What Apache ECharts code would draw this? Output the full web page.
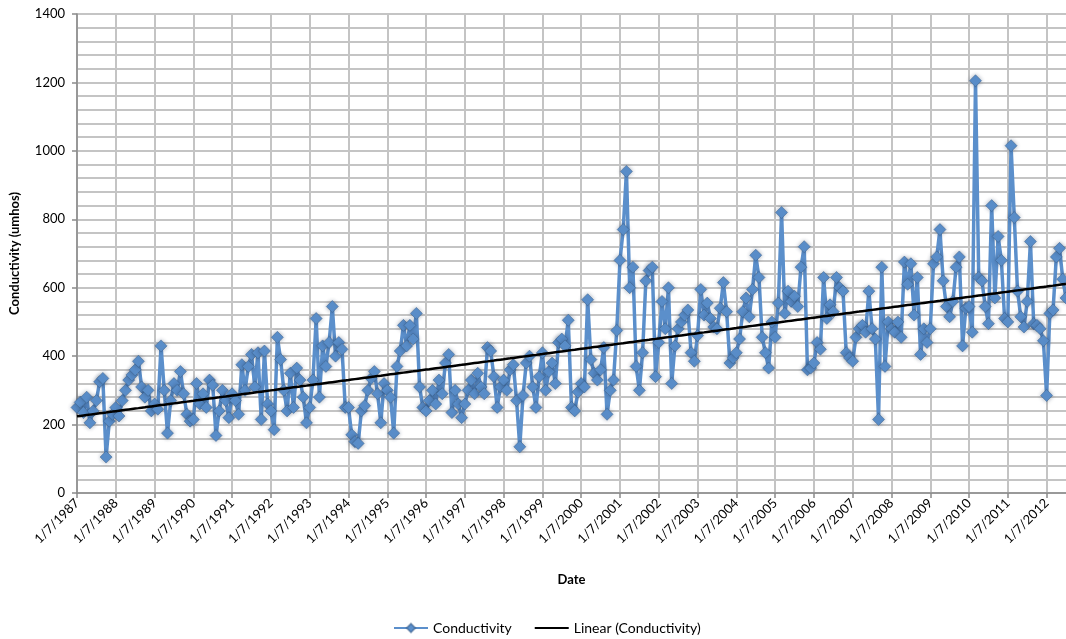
<!DOCTYPE html>
<html>
<head>
<meta charset="utf-8">
<title>Conductivity</title>
<script src="https://cdn.jsdelivr.net/npm/echarts@6/dist/echarts.min.js"></script>
<style>
  html, body { margin: 0; padding: 0; background: #fff; }
  #chart { width: 1066px; height: 639px; }
</style>
</head>
<body>
<div id="chart"></div>
<script>
// Monthly samples, first one taken 1/7/1987 (day/month/year)
const startYear = 1987;
const startMonth = 7;

// Conductivity readings in umhos, one per month
const conductivity = [
  // 1987-88
  250, 265, 235, 280, 205, 240, 270, 325, 335, 105, 210, 230,
  // 1988-89
  250, 225, 270, 300, 330, 345, 360, 385, 310, 280, 300, 240,
  // 1989-90
  260, 245, 430, 300, 175, 270, 320, 300, 355, 290, 230, 210,
  // 1990-91
  215, 320, 260, 290, 250, 330, 315, 168, 240, 300, 270, 220,
  // 1991-92
  290, 270, 230, 375, 300, 370, 405, 310, 410, 215, 415, 260,
  // 1992-93
  240, 185, 455, 390, 300, 240, 350, 250, 365, 330, 280, 205,
  // 1993-94
  250, 330, 510, 280, 430, 370, 440, 545, 400, 440, 420, 250,
  // 1994-95
  250, 170, 150, 145, 240, 255, 300, 335, 355, 290, 205, 320,
  // 1995-96
  300, 280, 175, 370, 415, 490, 430, 490, 450, 525, 310, 250,
  // 1996-97
  240, 270, 300, 260, 330, 290, 380, 405, 235, 300, 260, 220,
  // 1997-98
  260, 300, 330, 290, 350, 310, 290, 425, 415, 340, 250, 310,
  // 1998-99
  330, 300, 360, 375, 270, 135, 285, 380, 400, 310, 250, 340,
  // 1999-00
  410, 300, 355, 380, 320, 440, 450, 430, 505, 250, 240, 295,
  // 2000-01
  320, 310, 565, 390, 350, 330, 360, 425, 230, 300, 330, 475,
  // 2001-02
  680, 770, 940, 600, 660, 370, 300, 410, 620, 650, 660, 340,
  // 2002-03
  440, 560, 480, 600, 320, 430, 480, 500, 520, 535, 410, 385,
  // 2003-04
  460, 595, 520, 555, 510, 485, 480, 540, 615, 530, 380, 395,
  // 2004-05
  410, 450, 530, 570, 515, 595, 695, 630, 455, 410, 365, 500,
  // 2005-06
  455, 555, 820, 525, 590, 560, 575, 545, 660, 720, 360, 365,
  // 2006-07
  380, 440, 420, 630, 510, 550, 530, 630, 600, 590, 410, 395,
  // 2007-08
  385, 455, 480, 490, 470, 590, 480, 450, 215, 660, 370, 500,
  // 2008-09
  480, 470, 500, 455, 675, 610, 670, 520, 630, 405, 480, 440,
  // 2009-10
  480, 670, 690, 770, 620, 545, 515, 560, 660, 690, 430, 540,
  // 2010-11
  545, 470, 1205, 630, 620, 545, 495, 840, 570, 750, 680, 510,
  // 2011-12
  500, 1015, 805, 590, 515, 485, 560, 735, 495, 490, 480, 445,
  // 2012
  285, 525, 535, 690, 715, 625, 570
];

// Category labels: sampling date of each reading
const sampleDates = conductivity.map(function (_, i) {
  const m = startMonth - 1 + i;
  return '1/' + (m % 12 + 1) + '/' + (startYear + Math.floor(m / 12));
});

// Least-squares linear trend over the sample index
function linearTrend(values) {
  const n = values.length;
  let sx = 0, sy = 0, sxx = 0, sxy = 0;
  values.forEach(function (y, i) {
    const x = i + 1;
    sx += x; sy += y; sxx += x * x; sxy += x * y;
  });
  const slope = (n * sxy - sx * sy) / (n * sxx - sx * sx);
  const intercept = (sy - slope * sx) / n;
  return values.map(function (_, i) { return +(intercept + slope * (i + 1)).toFixed(2); });
}
const trend = linearTrend(conductivity);

const fontFamily = 'Lato, "Open Sans", sans-serif';
const gridColor = '#c4c4c4';
const axisColor = '#8a8a8a';
const blue = '#5b8fcb';

const chart = echarts.init(document.getElementById('chart'), null, { renderer: 'canvas' });
chart.setOption({
  animation: false,
  backgroundColor: '#ffffff',
  textStyle: { fontFamily: fontFamily, color: '#000' },
  grid: { left: 76, right: 0, top: 14, bottom: 146, containLabel: false },
  legend: {
    left: 388,
    top: 616,
    itemWidth: 34,
    itemHeight: 11,
    itemGap: 22,
    textStyle: { fontFamily: fontFamily, fontSize: 14, color: '#000' },
    data: [
      { name: 'Conductivity' },
      { name: 'Linear (Conductivity)', itemStyle: { opacity: 0 } }
    ]
  },
  xAxis: {
    type: 'category',
    data: sampleDates,
    boundaryGap: false,
    name: 'Date',
    nameLocation: 'middle',
    nameGap: 80,
    nameTextStyle: { fontFamily: fontFamily, fontWeight: 'bold', fontSize: 13, color: '#000' },
    axisLine: { lineStyle: { color: axisColor, width: 1.5 } },
    axisTick: { show: true, interval: 11, length: 5, lineStyle: { color: axisColor, width: 1.5 } },
    axisLabel: { interval: 11, rotate: 45, fontSize: 13, color: '#000', margin: 8, fontFamily: fontFamily },
    splitLine: { show: true, interval: 11, lineStyle: { color: gridColor, width: 2 } }
  },
  yAxis: {
    type: 'value',
    min: 0,
    max: 1400,
    interval: 200,
    name: 'Conductivity (umhos)',
    nameLocation: 'middle',
    nameGap: 56,
    nameTextStyle: { fontFamily: fontFamily, fontWeight: 'bold', fontSize: 13, color: '#000' },
    axisLine: { show: true, lineStyle: { color: axisColor, width: 1.5 } },
    axisTick: { show: true, length: 5, lineStyle: { color: axisColor, width: 1.5 } },
    axisLabel: {
      fontSize: 13, color: '#000', margin: 12, fontFamily: fontFamily,
      formatter: function (v) { return String(v); }
    },
    splitLine: { show: true, lineStyle: { color: gridColor, width: 2 } },
    minorTick: { show: false, splitNumber: 5 },
    minorSplitLine: { show: true, lineStyle: { color: gridColor, width: 2 } }
  },
  series: [
    {
      name: 'Conductivity',
      type: 'line',
      data: conductivity,
      symbol: 'diamond',
      symbolSize: 12,
      showAllSymbol: true,
      lineStyle: { color: blue, width: 3.5 },
      itemStyle: {
        color: blue,
        borderColor: 'rgba(60,95,140,0.5)',
        borderWidth: 1,
        shadowBlur: 4,
        shadowColor: 'rgba(30,50,80,0.4)'
      },
      z: 2
    },
    {
      name: 'Linear (Conductivity)',
      type: 'line',
      data: trend,
      symbol: 'none',
      lineStyle: { color: '#000', width: 2.5 },
      itemStyle: { color: '#000' },
      z: 3
    }
  ]
});
</script>
</body>
</html>
